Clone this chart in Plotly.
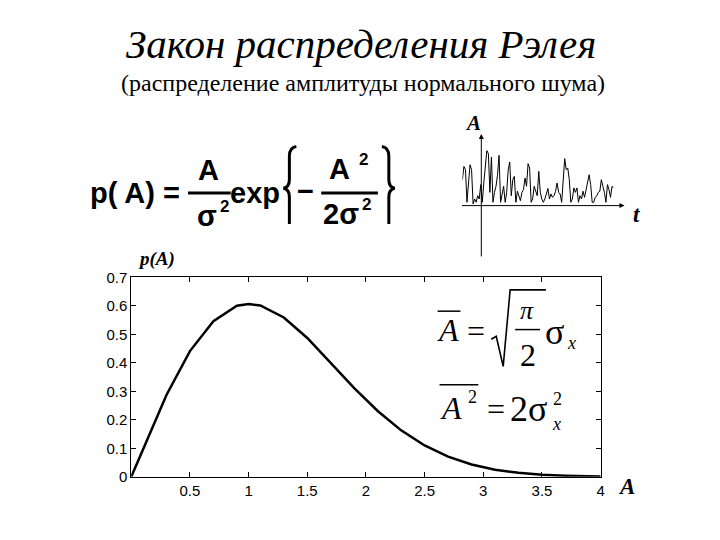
import plotly.graph_objects as go

# ---- data ----
amplitude = [0, 0.3, 0.5, 0.7, 0.9, 1.0, 1.1, 1.3, 1.5, 1.7, 1.9, 2.1, 2.3, 2.5, 2.7,
             2.9, 3.1, 3.3, 3.5, 3.7, 4.0]
density = [0, 0.287, 0.441, 0.546, 0.600, 0.606, 0.601, 0.559, 0.487, 0.400, 0.311,
           0.231, 0.163, 0.110, 0.071, 0.043, 0.025, 0.014, 0.0076, 0.0040, 0.0013]
x_ticks = [0.5, 1, 1.5, 2, 2.5, 3, 3.5, 4]
x_tick_text = ["0.5", "1", "1.5", "2", "2.5", "3", "3.5", "4"]
y_ticks = [0, 0.1, 0.2, 0.3, 0.4, 0.5, 0.6, 0.7]
y_tick_text = ["0", "0.1", "0.2", "0.3", "0.4", "0.5", "0.6", "0.7"]

noise_amp = [0.47, 0.71, 0.65, 0.06, 0.41, 0.74, 0.65, 0.03, 0.12, 0.06, 0.18, 0.12,
             0.38, 0.06, 0.41, 0.76, 1.0, 0.94, 0.24, 0.88, 0.06, 0.24, 0.35, 0.56,
             0.91, 0.06, 0.24, 0.35, 0.06, 0.24, 0.65, 0.79, 0.18, 0.47, 0.53, 0.06,
             0.26, 0.18, 0.09, 0.24, 0.29, 0.5, 0.35, 0.76, 0.68, 0.06, 0.12, 0.35,
             0.24, 0.18, 0.62, 0.24, 0.12, 0.06, 0.12, 0.24, 0.31, 0.12, 0.21, 0.15,
             0.18, 0.26, 0.41, 0.24, 0.21, 0.06, 0.41, 0.85, 0.65, 0.68, 0.47, 0.06,
             0.12, 0.32, 0.24, 0.32, 0.06, 0.18, 0.12, 0.26, 0.15, 0.29, 0.44, 0.56,
             0.38, 0.06, 0.06, 0.15, 0.18, 0.24, 0.26, 0.47, 0.35, 0.24, 0.06, 0.38,
             0.29, 0.15, 0.35, 0.32]
noise_t = list(range(len(noise_amp)))

W, H = 720, 540
def px(x):
    return x / W
def py(y):
    return 1 - y / H

SANS = "Liberation Sans"
SERIF = "Liberation Serif"

fig = go.Figure()
fig.add_trace(go.Scatter(x=amplitude, y=density, mode="lines",
                         line=dict(color="black", width=2.5), showlegend=False))
fig.add_trace(go.Scatter(x=noise_t, y=noise_amp, mode="lines", xaxis="x2", yaxis="y2",
                         line=dict(color="black", width=1), showlegend=False))

axis_common = dict(showline=True, linecolor="black", linewidth=1, mirror="ticks",
                   ticks="inside", ticklen=5, tickcolor="black", showgrid=False,
                   zeroline=False, tickfont=dict(family=SANS, size=15, color="black"))

fig.update_layout(
    width=W, height=H, margin=dict(l=0, r=0, t=0, b=0),
    paper_bgcolor="white", plot_bgcolor="white",
    xaxis=dict(domain=[px(132), px(604)], range=[0, 4], tickvals=x_ticks,
               ticktext=x_tick_text, **axis_common),
    yaxis=dict(domain=[py(483), py(277)], range=[0, 0.7], tickvals=y_ticks,
               ticktext=y_tick_text, **axis_common),
    xaxis2=dict(domain=[px(465), px(617)], range=[0, len(noise_amp) - 1],
                visible=False, anchor="y2"),
    yaxis2=dict(domain=[py(203), py(146)], range=[0, 1], visible=False, anchor="x2"),
)

ann = []
def txt(x, y, s, size, family=SANS, xa="center", ya="middle"):
    ann.append(dict(x=px(x), y=py(y), xref="paper", yref="paper", text=s,
                    showarrow=False, xanchor=xa, yanchor=ya,
                    font=dict(family=family, size=size, color="black")))

# titles
txt(363, 36, "<i>Закон распределения Рэлея</i>", 41, SERIF)
txt(365, 76, "(распределение амплитуды нормального шума)", 24, SERIF)

# left formula
txt(136, 190, "<b>p( A) =</b>", 29)
txt(210, 166, "<b>A</b>", 29)
txt(208, 214, "<b>σ</b>", 29)
txt(226, 204, "<b>2</b>", 17)
txt(256, 190, "<b>exp</b>", 29)
txt(307, 188, "<b>−</b>", 29)
txt(341, 165, "<b>A</b>", 29)
txt(366, 155, "<b>2</b>", 17)
txt(343, 212, "<b>2σ</b>", 29)
txt(369, 202, "<b>2</b>", 17)

# right equations
txt(451, 331, "<i>A</i>", 32, SERIF)
txt(479, 332, "=", 32, SERIF)
txt(530, 311, "<i>π</i>", 26, SERIF)
txt(531, 357, "2", 32, SERIF)
txt(558, 333, "σ", 36, SERIF)
txt(575, 345, "<i>x</i>", 18, SERIF)
txt(454, 412, "<i>A</i>", 32, SERIF)
txt(475, 401, "2", 18, SERIF)
txt(499, 413, "=", 32, SERIF)
txt(531, 413, "2σ", 36, SERIF)
txt(561, 403, "2", 18, SERIF)
txt(560, 428, "<i>x</i>", 18, SERIF)

# axis labels
txt(157, 258, "<b><i>p(A)</i></b>", 19, SERIF)
txt(630, 493, "<b><i>A</i></b>", 23, SERIF)
txt(476, 118, "<b><i>A</i></b>", 21, SERIF)
txt(640, 212, "<b><i>t</i></b>", 23, SERIF)

# inset arrows
ann.append(dict(x=px(484), y=py(129), xref="paper", yref="paper", ax=0, ay=124,
                showarrow=True, arrowhead=2, arrowsize=1, arrowwidth=1,
                arrowcolor="black", text=""))
ann.append(dict(x=px(628), y=py(203), xref="paper", yref="paper", ax=-164, ay=0,
                showarrow=True, arrowhead=2, arrowsize=1, arrowwidth=1,
                arrowcolor="black", text=""))
fig.update_layout(annotations=ann)

shapes = []
def hline(x0, x1, y, w):
    shapes.append(dict(type="line", xref="paper", yref="paper", x0=px(x0), x1=px(x1),
                       y0=py(y), y1=py(y), line=dict(color="black", width=w)))
def poly(pts, w):
    path = "M " + " L ".join(f"{px(a)},{py(b)}" for a, b in pts)
    shapes.append(dict(type="path", xref="paper", yref="paper", path=path,
                       line=dict(color="black", width=w)))
def curve(d, w):
    shapes.append(dict(type="path", xref="paper", yref="paper", path=d,
                       line=dict(color="black", width=w)))

hline(189, 232, 190, 3)
hline(323, 380, 190, 3)
hline(440, 463, 312, 1.5)
hline(518, 543, 331, 1.5)
hline(442, 481, 388, 1.5)
poly([(494, 341), (499, 338), (506, 369), (513, 290), (549, 290)], 1.6)

# braces
def P(a, b):
    return f"{px(a)},{py(b)}"
lb = (f"M {P(298, 142)} Q {P(291, 143)} {P(291, 152)} L {P(291, 176)} "
      f"Q {P(291, 184)} {P(285, 185)} Q {P(291, 186)} {P(291, 194)} "
      f"L {P(291, 222)}")
rb = (f"M {P(384, 142)} Q {P(391, 143)} {P(391, 152)} L {P(391, 176)} "
      f"Q {P(391, 184)} {P(397, 185)} Q {P(391, 186)} {P(391, 194)} "
      f"L {P(391, 222)}")
curve(lb, 3)
curve(rb, 3)
fig.update_layout(shapes=shapes)

fig.write_html("out.html")
